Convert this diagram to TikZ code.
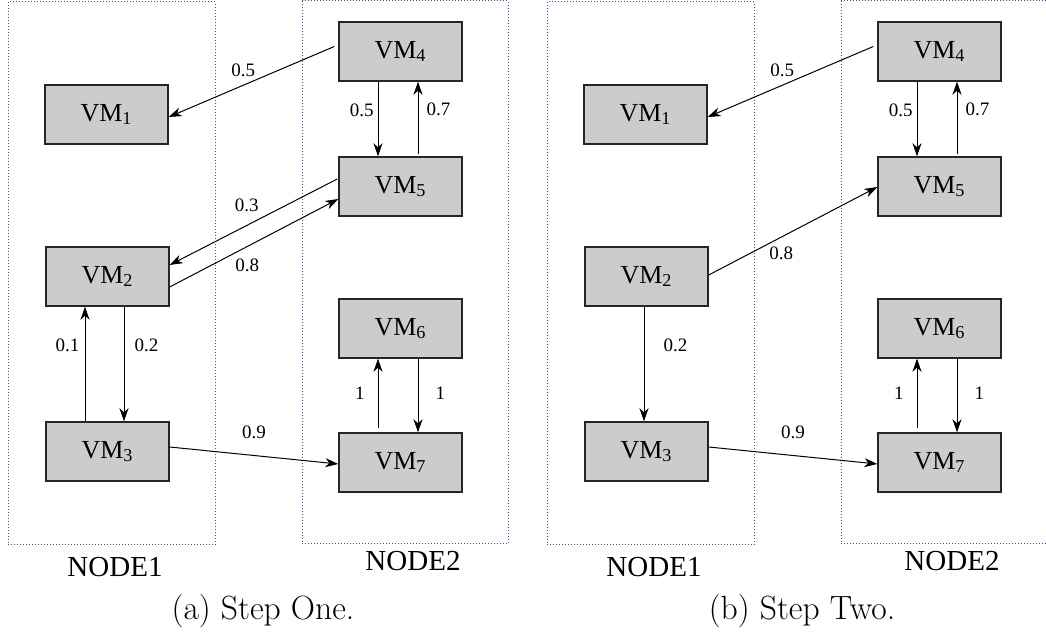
\documentclass[tikz,border=0pt]{standalone}
\usepackage{fontspec}
\setmainfont{Liberation Serif}
\newfontfamily\capfont{Latin Modern Roman}
\usetikzlibrary{positioning, arrows.meta, calc}
\newcommand{\vm}[1]{VM\textsubscript{#1}}

\begin{document}
\begin{tikzpicture}[
        x=0.5pt, y=-0.5pt,
        vmbox/.style={
            draw=black!85, fill=black!20, line width=0.7pt,
            minimum width=61.5pt, minimum height=29.5pt, inner sep=0pt,
            font=\fontsize{13}{15}\selectfont
        },
        hostbox/.style={draw=blue!75, line width=0.5pt, dash pattern=on 0.5pt off 1pt},
        link/.style={-{Stealth[length=6.5pt, width=4.5pt, inset=2pt]}, line width=0.5pt},
        lbl/.style={font=\fontsize{9.5}{11}\selectfont, inner sep=1pt},
        hostname/.style={font=\fontsize{14.5}{17}\selectfont, inner sep=0pt},
        caption/.style={font=\capfont\fontsize{16.8}{20}\selectfont, inner sep=0pt}
      ]
        \useasboundingbox (0,0) rectangle (1046,635);

        % both panels share the hosts, the VMs and most links
        \foreach \p/\dx/\cap in {a/0/{(a) Step One.}, b/539/{(b) Step Two.}} {
          \begin{scope}[shift={(\dx,0)}]
            \draw[hostbox] (8,2) rectangle (215,545);
            \draw[hostbox] (302,1) rectangle (508,544);
            \node[hostname] (\p host1) at (115,567) {NODE1};
            \node[hostname] (\p host2) at (413,561) {NODE2};
            \node[caption] (\p cap) at (263,611) {\cap};

            \foreach \i/\x/\y in {1/106.5/114.5, 2/107.5/276.5, 3/107.5/451.5,
                                  4/400.5/51.5, 5/400.5/186.5, 6/400.5/328.5, 7/400.5/462.5}
              \node[vmbox] (\p\i) at (\x,\y) {\vm{\i}};

            \draw[link] ($(\p4.west)+(-4,-5)$) -- node[lbl, pos=.55, above=3pt] {0.5} ($(\p1.east)+(0,2.5)$);
            \draw[link] ($(\p4.south)+(-22.5,0)$) -- node[lbl, pos=.38, left=1pt] {0.5} ($(\p5.north)+(-22.5,0)$);
            \draw[link] ($(\p5.north)+(17.5,-2)$) -- node[lbl, pos=.62, right=3pt] {0.7} ($(\p4.south)+(17.5,0)$);
            \draw[link] ($(\p3.east)+(0,-4.5)$) -- node[lbl, pos=.5, above=7pt] {0.9} ($(\p7.west)+(0,1.5)$);
            \draw[link] ($(\p7.north)+(-22.5,-4)$) -- node[lbl, pos=.5, left=5.5pt] {1} ($(\p6.south)+(-22.5,0)$);
            \draw[link] ($(\p6.south)+(17.5,0)$) -- node[lbl, pos=.47, right=7.5pt] {1} ($(\p7.north)+(17.5,0)$);
          \end{scope}
        }

        % step one
        \draw[link] ($(a5.west)+(-1,-7.5)$) -- node[lbl, pos=.54, above=5.5pt] {0.3} ($(a2.east)+(0,-11.5)$);
        \draw[link] ($(a2.east)+(0,10.5)$) -- node[lbl, pos=.46, below=5pt] {0.8} ($(a5.west)+(0,12.5)$);
        \draw[link] ($(a3.north)+(-22.5,0)$) -- node[lbl, pos=.66, left=1.5pt] {0.1} ($(a2.south)+(-22.5,0)$);
        \draw[link] ($(a2.south)+(16.5,0)$) -- node[lbl, pos=.34, right=4pt] {0.2} ($(a3.north)+(16.5,0)$);

        % step two
        \draw[link] ($(b2.east)+(0,-1.5)$) -- node[lbl, pos=.43, below=3.5pt] {0.8} ($(b5.west)+(0,0.5)$);
        \draw[link] ($(b2.south)+(-2.5,0)$) -- node[lbl, pos=.34, right=8.5pt] {0.2} ($(b3.north)+(-2.5,0)$);
      \end{tikzpicture}
\end{document}
